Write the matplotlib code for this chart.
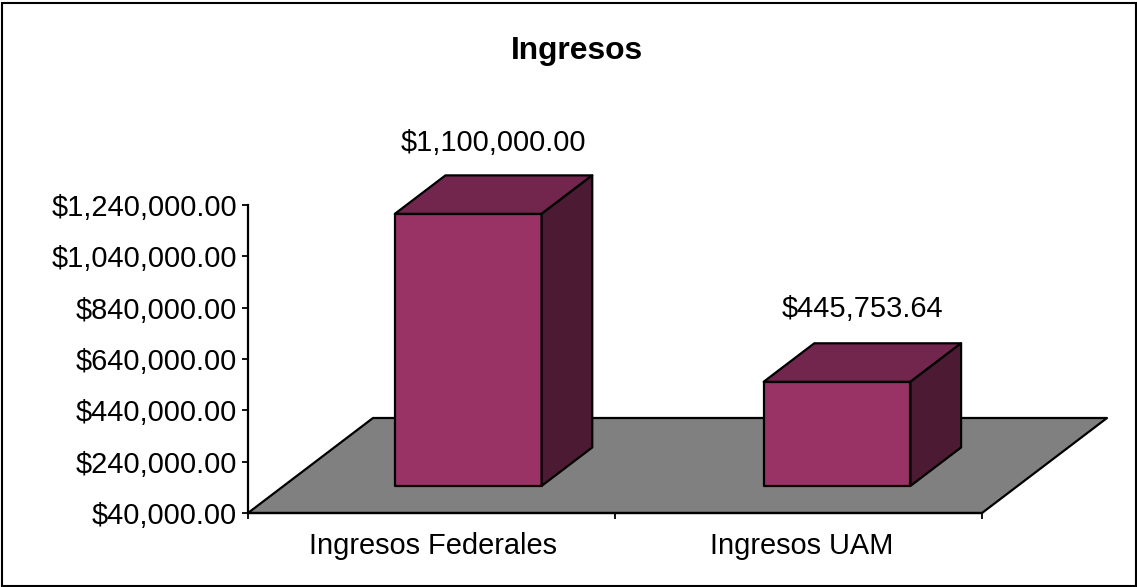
import matplotlib
matplotlib.use('Agg')
from matplotlib import pyplot as plt
from matplotlib.patches import Polygon, Rectangle
from matplotlib.ticker import FuncFormatter

categories = ['Ingresos Federales', 'Ingresos UAM']
values = [1100000.00, 445753.64]
y_ticks = [40000, 240000, 440000, 640000, 840000, 1040000, 1240000]

W, H = 1137, 587
base = 40000
top = 1240000

# fake 3d: how far the depth axis shifts things, in data units
depth_x = 125 / 367
depth_y = 95 * (top - base) / 308
bar_front = 0.285
bar_back = 0.69
bar_width = 0.4
centers = [0.503, 1.508]
label_lift = [23, 25]

front_col = '#993366'
top_col = '#73264d'
side_col = '#4d1a33'
floor_col = '#808080'
lw = 1.6

plt.rcParams['font.family'] = ['Liberation Sans', 'DejaVu Sans']

fig = plt.figure(figsize=(W / 100, H / 100), dpi=100)
fig.patch.set_facecolor('white')
fig.add_artist(Rectangle((1.5 / W, 1.5 / H), (W - 3) / W, (H - 4) / H, transform=fig.transFigure,
                         fill=False, edgecolor='black', linewidth=1.5))

ax = fig.add_axes([248 / W, (H - 513) / H, 734 / W, 308 / H])
ax.set_xlim(0, 2)
ax.set_ylim(base, top)
ax.patch.set_visible(False)
ax.spines['top'].set_visible(False)
ax.spines['right'].set_visible(False)
ax.spines['left'].set_linewidth(lw)
ax.spines['bottom'].set_linewidth(lw)


def pt(x, y, d):
    return (x + d * depth_x, y + d * depth_y)


def face(points, col, z):
    ax.add_patch(Polygon(points, closed=True, facecolor=col, edgecolor='black', linewidth=lw,
                         joinstyle='round', clip_on=False, zorder=z))


# floor
face([pt(0, base, 0), pt(2, base, 0), pt(2, base, 1), pt(0, base, 1)], floor_col, 1)

for i, v in enumerate(values):
    c = centers[i]
    l = c - bar_width / 2
    r = c + bar_width / 2
    face([pt(l, base, bar_front), pt(r, base, bar_front), pt(r, v, bar_front), pt(l, v, bar_front)], front_col, 3)
    face([pt(l, v, bar_front), pt(r, v, bar_front), pt(r, v, bar_back), pt(l, v, bar_back)], top_col, 3)
    face([pt(r, base, bar_front), pt(r, base, bar_back), pt(r, v, bar_back), pt(r, v, bar_front)], side_col, 3)
    lx, ly = pt(c, v, bar_back)
    ax.annotate('${:,.2f}'.format(v), xy=(lx, ly), xytext=(-18, label_lift[i]), textcoords='offset points',
                ha='center', va='center', fontsize=20.9, annotation_clip=False, zorder=5)

ax.set_yticks(y_ticks)
ax.yaxis.set_major_formatter(FuncFormatter(lambda v, p: '${:,.2f}'.format(v)))
ax.tick_params(axis='y', length=4.5, width=1.3, pad=3.5, labelsize=20.9)

ax.set_xticks([0, 1, 2])
ax.set_xticklabels([])
ax.set_xticks(centers, minor=True)
ax.set_xticklabels(categories, minor=True)
ax.tick_params(axis='x', which='major', length=4.5, width=1.3)
ax.tick_params(axis='x', which='minor', length=0, pad=13.5, labelsize=20.9)

fig.text(577 / W, (H - 51.5) / H, 'Ingresos', ha='center', va='center', fontsize=22.9, fontweight='bold')

plt.savefig('out.png', dpi=100)
